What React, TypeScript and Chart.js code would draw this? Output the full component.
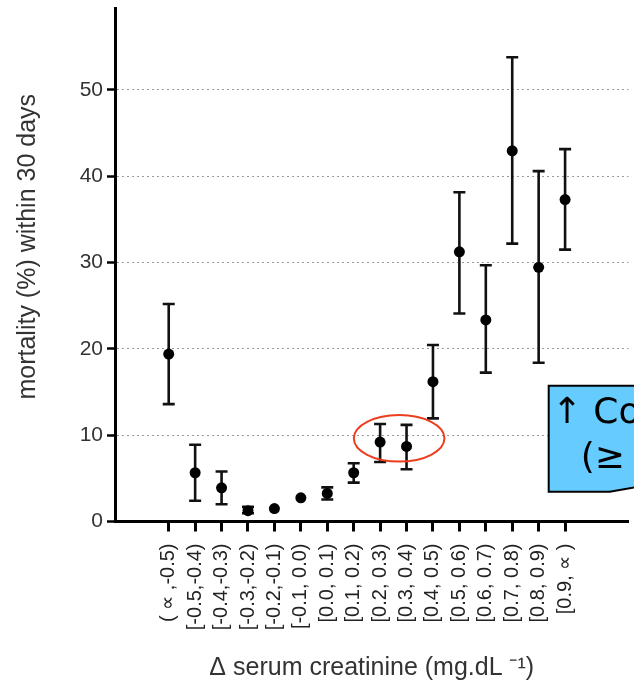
import React, { useEffect, useRef } from 'react';
import { Chart, registerables } from 'chart.js';

Chart.register(...registerables);

const categories = [
  '( ∝ ,-0.5)', '[-0.5,-0.4)', '[-0.4,-0.3)', '[-0.3,-0.2)', '[-0.2,-0.1)', '[-0.1, 0.0)',
  '[0.0, 0.1)', '[0.1, 0.2)', '[0.2, 0.3)', '[0.3, 0.4)', '[0.4, 0.5)', '[0.5, 0.6)',
  '[0.6, 0.7)', '[0.7, 0.8)', '[0.8, 0.9)', '[0.9, ∝ )',
];
const mortality = [19.4, 5.65, 3.9, 1.25, 1.5, 2.75, 3.25, 5.65, 9.2, 8.7, 16.2, 31.25, 23.35, 42.95, 29.45, 37.3];
const upper = [25.2, 8.9, 5.8, 1.7, 1.6, 2.9, 3.95, 6.75, 11.3, 11.2, 20.45, 38.15, 29.7, 53.8, 40.6, 43.15];
const lower = [13.6, 2.4, 2.0, 0.95, 1.4, 2.6, 2.55, 4.5, 6.9, 6.05, 11.95, 24.1, 17.25, 32.2, 18.4, 31.5];
const yTicks = [0, 10, 20, 30, 40, 50];
const yTitle = 'mortality (%) within 30 days';
const xTitle = 'Δ serum creatinine (mg.dL ⁻¹)';
const calloutLines = ['↑ Co', '(≥'];
const highlighted = [8, 9];

const errorBars = {
  id: 'errorBars',
  beforeDatasetsDraw(chart: any) {
    const { ctx, scales } = chart;
    const x = scales.x, y = scales.y;
    ctx.save();
    ctx.strokeStyle = '#111';
    ctx.lineWidth = 2.6;
    mortality.forEach((_, i) => {
      if (upper[i] - lower[i] < 0.4) return;
      const px = x.getPixelForValue(i);
      const t = y.getPixelForValue(upper[i]);
      const b = y.getPixelForValue(lower[i]);
      ctx.beginPath();
      ctx.moveTo(px, t); ctx.lineTo(px, b);
      ctx.moveTo(px - 6, t); ctx.lineTo(px + 6, t);
      ctx.moveTo(px - 6, b); ctx.lineTo(px + 6, b);
      ctx.stroke();
    });
    ctx.restore();
  },
};

const annotations = {
  id: 'annotations',
  afterDraw(chart: any) {
    const { ctx, scales, chartArea } = chart;
    const x = scales.x, y = scales.y;
    ctx.save();
    // red ellipse around highlighted points
    const cxv = (highlighted[0] + highlighted[1]) / 2 + 0.22;
    const cyv = 9.64;
    const cx = x.getPixelForValue(cxv);
    const cy = y.getPixelForValue(cyv);
    const rx = Math.abs(x.getPixelForValue(cxv + 1.715) - cx);
    const ry = Math.abs(y.getPixelForValue(cyv + 2.7) - cy);
    ctx.beginPath();
    ctx.ellipse(cx, cy, rx, ry, 0, 0, Math.PI * 2);
    ctx.strokeStyle = '#ec3d1c';
    ctx.lineWidth = 2;
    ctx.stroke();

    // callout box
    const L = x.getPixelForValue(14.38);
    const T = y.getPixelForValue(15.74);
    const B = y.getPixelForValue(3.45);
    const R = chart.width + 4;
    const bx = x.getPixelForValue(16.69);
    const sy = y.getPixelForValue(4.03);
    ctx.beginPath();
    ctx.moveTo(L, T);
    ctx.lineTo(R, T);
    ctx.lineTo(R, sy);
    ctx.lineTo(bx, B);
    ctx.lineTo(L, B);
    ctx.closePath();
    ctx.fillStyle = '#66ccff';
    ctx.fill();
    ctx.strokeStyle = '#000';
    ctx.lineWidth = 2;
    ctx.stroke();
    ctx.fillStyle = '#000';
    ctx.font = '36px "DejaVu Sans"';
    ctx.textAlign = 'left';
    ctx.textBaseline = 'alphabetic';
    ctx.fillText(calloutLines[0], L + 3, T + 37);
    ctx.fillText(calloutLines[1], L + 32, T + 82);

    // y axis title
    ctx.translate(28, (chartArea.top + chartArea.bottom) / 2 - 18);
    ctx.rotate(-Math.PI / 2);
    ctx.font = '25px "Liberation Sans"';
    ctx.fillStyle = '#333';
    ctx.textAlign = 'center';
    ctx.textBaseline = 'middle';
    ctx.fillText(yTitle, 0, 0);
    ctx.restore();
  },
};

export default function App() {
  const ref = useRef<HTMLCanvasElement | null>(null);
  useEffect(() => {
    if (!ref.current) return;
    const chart = new Chart(ref.current, {
      type: 'scatter',
      data: {
        datasets: [
          {
            data: mortality.map((v, i) => ({ x: i, y: v })),
            pointRadius: 5.5,
            pointBackgroundColor: '#000',
            pointBorderColor: '#000',
            pointBorderWidth: 0,
            showLine: false,
          },
        ],
      },
      options: {
        animation: false,
        responsive: false,
        maintainAspectRatio: false,
        layout: { padding: { top: 8, left: 0, right: 0, bottom: 0 } },
        plugins: { legend: { display: false }, tooltip: { enabled: false } },
        scales: {
          x: {
            type: 'linear',
            min: -2.033,
            max: 17.4,
            afterBuildTicks: (s: any) => { s.ticks = categories.map((_, i) => ({ value: i })); },
            afterFit: (s: any) => { s.height = 162.5; s.paddingLeft = 0; s.paddingRight = 0; },
            ticks: {
              autoSkip: false,
              minRotation: 90,
              maxRotation: 90,
              padding: 12,
              color: '#222',
              font: { family: 'Liberation Sans', size: 20 },
              callback: (v: any) => categories[v] ?? '',
            },
            grid: { drawOnChartArea: false, drawTicks: true, tickLength: 10, tickWidth: 3, tickColor: '#000' },
            border: { display: true, color: '#000', width: 3 },
            title: {
              display: true,
              text: xTitle,
              color: '#333',
              font: { family: 'Liberation Sans', size: 25 },
              padding: { top: 0, bottom: 1 },
            },
          },
          y: {
            min: 0,
            max: 59.5,
            afterBuildTicks: (s: any) => { s.ticks = yTicks.map((v) => ({ value: v })); },
            afterFit: (s: any) => { s.width = 115; s.paddingTop = 0; s.paddingBottom = 0; },
            ticks: { padding: 4, color: '#333', font: { family: 'Liberation Sans', size: 21 } },
            grid: {
              color: (c: any) => (c.tick && c.tick.value === 0 ? 'rgba(0,0,0,0)' : '#9a9a9a'),
              lineWidth: 1,
              tickLength: 8,
              tickWidth: 2.5,
              tickColor: '#000',
              tickBorderDash: [],
            },
            border: { display: true, color: '#000', width: 3, dash: [2, 3] },
          },
        },
      },
      plugins: [errorBars, annotations],
    } as any);
    return () => chart.destroy();
  }, []);
  return (
    <div style={{ position: 'absolute', left: 0, top: 0, width: 634, height: 684, background: '#fff', overflow: 'hidden' }}>
      <canvas ref={ref} width={634} height={684} style={{ display: 'block' }} />
    </div>
  );
}
